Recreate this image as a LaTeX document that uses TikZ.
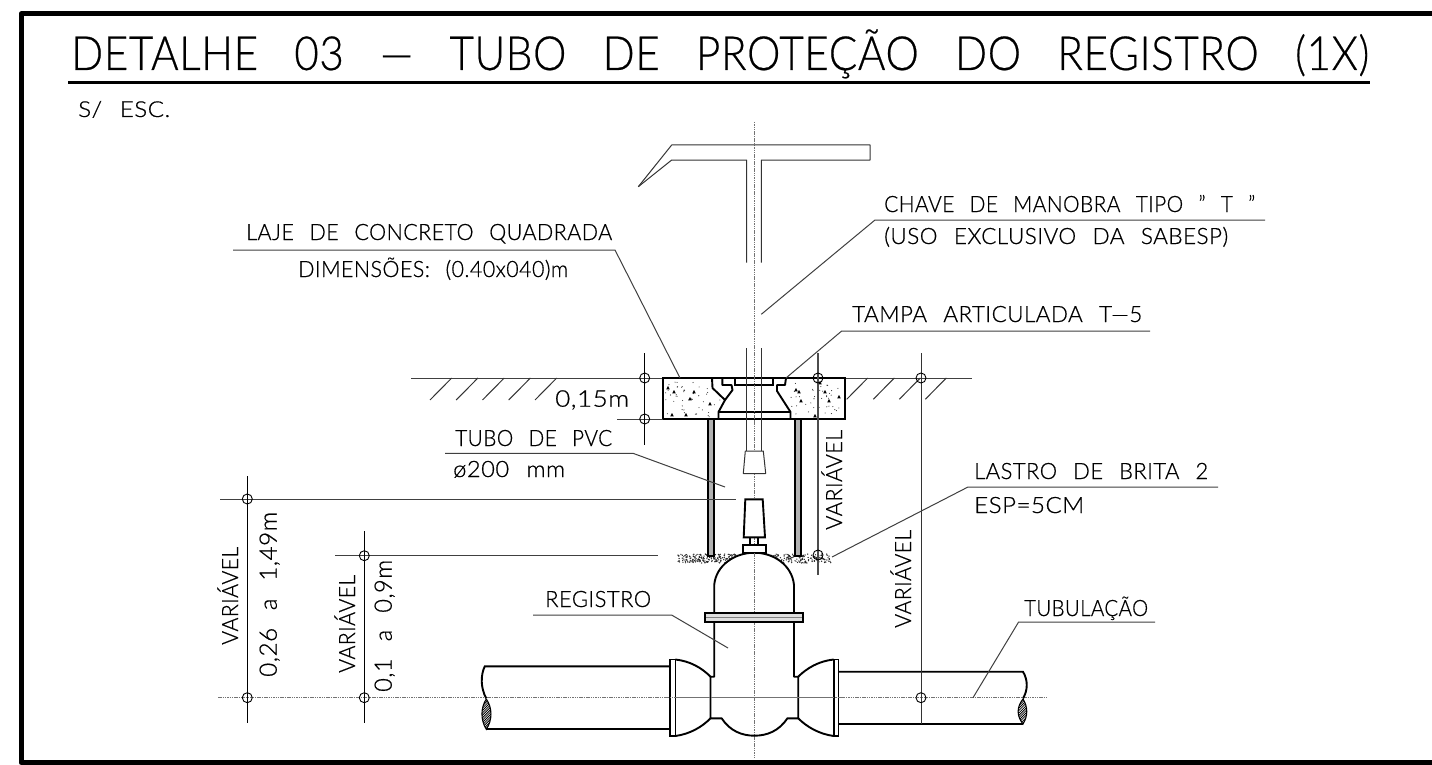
\documentclass[tikz,border=0pt]{standalone}
\usepackage{graphicx}
\usepackage{fontspec}
\setmainfont{Lato}[UprightFont=* Light,LetterSpace=2,WordSpace=2.5,FakeBold=0.6,AutoFakeBold=0.6,UprightFeatures={FakeBold=0.6}]
\newfontfamily\titlefont{Lato}[UprightFont=* Light,LetterSpace=1.5,WordSpace=3,UprightFeatures={FakeBold=0.5}]
\newcommand\cadt[3]{\resizebox{#1pt}{\height}{\fontsize{#2pt}{#2pt}\selectfont #3}}
\tikzset{
 frameline/.style={line width=5pt,black},
 heavy/.style={line width=1.9pt,black},
 thinl/.style={line width=1pt,black!75},
 axis/.style={line width=1.5pt,black!55,dash pattern=on 1.5pt off 0.8pt},
 mark circle/.style={line width=0.9pt,black},
 lbl/.style={inner sep=0pt,anchor=base west,text=black},
 vlbl/.style={inner sep=0pt,anchor=base west,rotate=90,text=black},
}
\begin{document}
\begin{tikzpicture}[x=1pt,y=-1pt]
\useasboundingbox (0,0) rectangle (1432,765);
\fill[white] (0,0) rectangle (1432,765);
% frame
\draw[frameline,line join=round] (1436,14) -- (21,14) -- (21,762.5) -- (1436,762.5);
% title
\node[lbl] (title) at (71,70) {\cadt{1298}{47}{\titlefont DETALHE 03 — TUBO DE PROTEÇÃO DO REGISTRO (1X)}};
\draw[line width=2.4pt] (68,82.5) -- (1370,82.5);
\node[lbl] (scale) at (78,117) {\cadt{92}{22}{S/ ESC.}};
% axes
\draw[axis] (218,697.7) -- (1047,697.7);
\draw[axis] (754.3,122) -- (754.3,758);
% ground
\draw[thinl] (411,378) -- (663,378);
\draw[thinl] (845,378) -- (972,378);
\foreach \x in {430,456.2,482.5,508.7,535} \draw[line width=1pt,black!80] (\x,400) -- (\x+21.7,378);
\foreach \x in {846.7,873.3,899.3,925.3} \draw[line width=1pt,black!80] (\x,399.3) -- (\x+21,378);
% gravel
\pgfmathsetseed{7}
\foreach \i in {1,...,480}{
  \pgfmathsetmacro\gx{678+rnd*153}
  \pgfmathsetmacro\gy{554+rnd*9}
  \fill[black!85] (\gx,\gy) circle (0.7pt);
}
% slab
\draw[line width=1.8pt,fill=white] (663,378) rectangle (845,419);
\pgfmathsetseed{21}
\foreach \i in {1,...,45}{
  \pgfmathsetmacro\gx{665+rnd*55}
  \pgfmathsetmacro\gy{381+rnd*36}
  \fill[black!80] (\gx,\gy) circle (0.55pt);
  \pgfmathsetmacro\hx{790+rnd*53}
  \pgfmathsetmacro\hy{381+rnd*36}
  \fill[black!80] (\hx,\hy) circle (0.55pt);
}
\foreach \p in {(668,388),(674,392),(694,392),(690,399),(672,415),(686,415),(710,404),(799,392),(801,401),(796,390),(825,392),(829,401),(839,397),(815,416),(820,383)}{
  \fill[black] \p ++(-1.8,1.4) -- ++(3.6,0) -- ++(-1.8,-3.4) -- cycle;
}
% PVC tube walls
\draw[line width=1.8pt,fill=black!30] (707.8,419) rectangle (713.6,556);
\draw[line width=1.8pt,fill=black!30] (794.8,419) rectangle (800.6,556);
% lid
\fill[white] (712,378) -- (712.5,388) -- (725,400) -- (718.5,412) -- (718.5,419) -- (790.5,419) -- (790.5,412) -- (777,391) -- (777,385) -- (785,385) -- (786,378) -- cycle;
\draw[heavy,line join=round] (712,378) -- (786,378);
\draw[heavy,line join=round] (712,378) -- (712.5,388) -- (725,400) -- (718.5,412) -- (718.5,419) -- (790.5,419) -- (790.5,412) -- (777,391) -- (777,385) -- (785,385) -- (786,378);
\draw[heavy,line join=round] (722.3,378) -- (722.3,385) -- (731.5,385) -- (732.5,390) -- (725,400);
\draw[heavy] (718.5,412) -- (790.5,412);
\draw[heavy] (735,378) rectangle (772.7,385);
\draw[axis] (754.3,376) -- (754.3,421);
% T key
\draw[line width=1pt,black!80,line join=round] (638.3,186.7) -- (671.7,145) -- (870,145) -- (870,160) -- (761.3,160) -- (761.3,262.7);
\draw[line width=1pt,black!80,line join=round] (638.3,186.7) -- (671.7,160) -- (746.7,160) -- (746.7,262.7);
\draw[line width=1pt,black!80] (746.7,348) -- (746.7,451);
\draw[line width=1pt,black!80] (761.3,348) -- (761.3,451);
\draw[line width=1pt,black!80,fill=white,line join=round] (745.3,451) -- (763.3,451) -- (765.7,473.5) -- (743.3,473.5) -- cycle;
% valve
\draw[heavy,fill=white,line join=round] (714.2,613) -- (714.2,585) .. controls (716,565) and (735,552.7) .. (754.3,552.7) .. controls (773.5,552.7) and (792,565) .. (794,585) -- (794,613) -- cycle;
\draw[heavy,fill=white] (745.3,499.3) -- (762.7,499.3) -- (765,537.3) -- (743.7,537.3) -- cycle;
\draw[line width=1.2pt] (750,537.3) -- (750,545) (758,537.3) -- (758,545);
\draw[heavy,fill=white] (742.7,545) rectangle (765.7,552.7);
\draw[axis] (754.3,553) -- (754.3,612);
\draw[line width=1.8pt,fill=black!12] (705.3,613) rectangle (803,622);
\draw[line width=1pt,black!50] (706,617.5) -- (802,617.5);
\draw[heavy,line join=round] (714.2,622) -- (714.2,676.7) -- (710.5,676.7) -- (710.5,718.3) -- (721.6,718.3) .. controls (730,731) and (742,735.7) .. (754.4,735.7) .. controls (767,735.7) and (779,731) .. (787.4,718.3) -- (798.2,718.3) -- (798.2,676.7) -- (794,676.7) -- (794,622);
% bells
\draw[heavy] (675.3,659.5) .. controls (690,661) and (702,668) .. (710.5,676.7);
\draw[heavy] (675.3,736) .. controls (690,734) and (702,727) .. (710.5,718.3);
\draw[heavy] (798.2,676.7) .. controls (807,668) and (819,661) .. (833.7,659.5);
\draw[heavy] (798.2,718.3) .. controls (807,727) and (819,734) .. (833.7,736);
\draw[line width=1.6pt,fill=white] (670.1,659.5) rectangle (675.3,736);
\draw[line width=1.6pt,fill=white] (833.7,659.5) rectangle (838.5,736);
\draw[axis] (665,697.7) -- (845,697.7);
% pipes
\draw[heavy] (670.1,666.3) -- (484.8,666.3) .. controls (480.5,675) and (480.5,688) .. (486.3,698.5);
\draw[heavy] (670.1,729.3) -- (486.3,729.3);
\draw[heavy] (838.5,671.7) -- (1023,671.7) .. controls (1028,680) and (1028,690) .. (1023,698.5);
\draw[heavy] (838.5,724) -- (1023,724);
\begin{scope}
\clip (486.3,699) .. controls (480.5,708) and (480.5,720) .. (486.3,729.3) .. controls (492.5,720) and (492.5,708) .. (486.3,699);
\foreach \k in {0,...,18} \draw[line width=.8pt] (478,703+\k*2.4) -- (496,685+\k*2.4);
\end{scope}
\draw[line width=1.1pt] (486.3,699) .. controls (480.5,708) and (480.5,720) .. (486.3,729.3) .. controls (492.5,720) and (492.5,708) .. (486.3,699);
\begin{scope}
\clip (1023,699) .. controls (1016.5,707) and (1016.5,716) .. (1023,724) .. controls (1028,716) and (1028,707) .. (1023,699);
\foreach \k in {0,...,18} \draw[line width=.8pt] (1012,703+\k*2.4) -- (1032,683+\k*2.4);
\end{scope}
\draw[line width=1.1pt] (1023,699) .. controls (1016.5,707) and (1016.5,716) .. (1023,724) .. controls (1028,716) and (1028,707) .. (1023,699);
% dimensions
\draw[thinl] (220,499) -- (736,499);
\draw[thinl] (335,555.7) -- (657.5,555.7);
\draw[thinl] (617,419) -- (663,419);
\draw[line width=1pt] (247.3,476) -- (247.3,723);
\draw[line width=1pt] (364.3,531) -- (364.3,723);
\draw[line width=1pt] (644.7,353) -- (644.7,444.5);
\draw[line width=1.1pt,black!70] (818,353) -- (818,575);
\draw[line width=1pt,black!80] (921,353) -- (921,724);
\foreach \p in {(247.3,499),(247.3,697.7),(364.3,555.7),(364.3,697.7),(644.7,378),(644.7,419),(818,378),(818,555),(921,378),(921,697.7)}
  \draw[mark circle] \p circle (5pt);
% leaders
\draw[thinl] (233,250) -- (615,250) -- (680,378);
\draw[thinl] (1265,220) -- (875,220) -- (761.3,314.3);
\draw[thinl] (1150,331) -- (841.7,331) -- (786,378);
\draw[thinl] (445,453.3) -- (633,453.3) -- (725,487);
\draw[thinl] (1218,487) -- (968,487) -- (832,557);
\draw[thinl] (533,615) -- (671.6,615) -- (728,648);
\draw[thinl] (1155,622) -- (1018.6,622) -- (973,697.7);
% labels
\node[lbl] (laje) at (246,240) {\cadt{366}{22.5}{LAJE DE CONCRETO QUADRADA}};
\node[lbl] (dim) at (298,277) {\cadt{270}{22.5}{DIMENSÕES: (0.40x040)m}};
\node[lbl] (chave) at (884,212) {\cadt{371}{22.5}{CHAVE DE MANOBRA TIPO " T "}};
\node[lbl] (uso) at (884,244) {\cadt{344}{22.5}{(USO EXCLUSIVO DA SABESP)}};
\node[lbl] (tampa) at (852,322) {\cadt{290}{22.5}{TAMPA ARTICULADA T—5}};
\node[lbl] (esp015) at (555,406.7) {\cadt{74}{23}{0,15m}};
\node[lbl] (tubo) at (455,446) {\cadt{157}{22.5}{TUBO DE PVC}};
\node[lbl] (phi) at (453,477) {\cadt{112}{22.5}{ø200 mm}};
\node[lbl] (lastro) at (974,479) {\cadt{234}{22.5}{LASTRO DE BRITA 2}};
\node[lbl] (espb) at (974,513) {\cadt{110}{22.5}{ESP=5CM}};
\node[lbl] (reg) at (545,607) {\cadt{106}{22.5}{REGISTRO}};
\node[lbl] (tubul) at (1024,616) {\cadt{124}{22.5}{TUBULAÇÃO}};
\node[vlbl] (v1) at (842,530) {\cadt{100}{22.5}{VARIÁVEL}};
\node[vlbl] (v2) at (911,628) {\cadt{98}{22.5}{VARIÁVEL}};
\node[vlbl] (v3) at (238,645) {\cadt{98}{22.5}{VARIÁVEL}};
\node[vlbl] (v4) at (276.7,677) {\cadt{165}{24}{0,26 a 1,49m}};
\node[vlbl] (v5) at (355,673) {\cadt{98}{22.5}{VARIÁVEL}};
\node[vlbl] (v6) at (391.7,692) {\cadt{132}{24}{0,1 a 0,9m}};
\end{tikzpicture}
\end{document}
